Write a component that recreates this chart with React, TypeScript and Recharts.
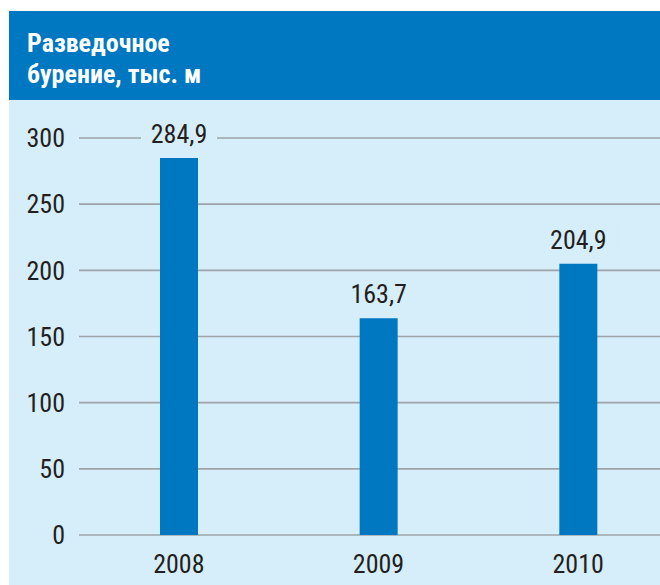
import React from 'react';
import { BarChart, Bar, XAxis, YAxis, CartesianGrid, LabelList } from 'recharts';

const years = ['2008', '2009', '2010'];
const drilling = [284.9, 163.7, 204.9];
const yTicks = [0, 50, 100, 150, 200, 250, 300];
const titleLines = ['Разведочное', 'бурение, тыс. м'];

const data = years.map((y, i) => ({ year: y, value: drilling[i] }));

const FONT = '"Liberation Sans Narrow", "Arial Narrow", "Roboto Condensed", "Liberation Sans", sans-serif';
const BG = '#D6EDFA';
const BLUE = '#0078C1';
const TEXT = '#231F20';

const ValueLabel = (props: any) => {
  const { x, y, width, value } = props;
  const cx = x + width / 2;
  const by = y - 15;
  return (
    <g>
      <rect x={cx - 38} y={by - 24} width={76} height={30} fill={BG} />
      <text x={cx} y={by} textAnchor="middle" fill={TEXT} fontSize={26} fontFamily={FONT}>
        {String(value).replace('.', ',')}
      </text>
    </g>
  );
};

export default function App() {
  return (
    <div style={{ position: 'fixed', left: 0, top: 0, width: 660, height: 585, overflow: 'hidden', background: '#fff' }}>
      <div style={{ position: 'absolute', left: 9, top: 11, width: 651, height: 574, background: BG }} />
      <div style={{ position: 'absolute', left: 9, top: 11, width: 651, height: 89, background: BLUE }} />
      <svg style={{ position: 'absolute', left: 0, top: 0 }} width={660} height={100}>
        {titleLines.map((t, i) => (
          <text key={i} x={27} y={52 + i * 31} fill="#fff" fontSize={26} fontWeight="bold" fontFamily={FONT}>
            {t}
          </text>
        ))}
      </svg>
      <div style={{ position: 'absolute', left: 0, top: 0 }}>
        <BarChart width={678} height={585} data={data} margin={{ top: 138, right: 0, bottom: 0, left: 0 }}>
          <CartesianGrid vertical={false} stroke="#9EA4A9" strokeWidth={1.6} />
          <XAxis
            dataKey="year"
            axisLine={false}
            tickLine={false}
            tickSize={6}
            tickMargin={14}
            height={50}
            tick={{ fill: TEXT, fontSize: 26, fontFamily: FONT }}
          />
          <YAxis
            width={79}
            domain={[0, 300]}
            ticks={yTicks}
            axisLine={false}
            tickLine={false}
            tickSize={6}
            tickMargin={8}
            tick={{ fill: TEXT, fontSize: 26, fontFamily: FONT }}
          />
          <Bar dataKey="value" fill={BLUE} barSize={38} isAnimationActive={false}>
            <LabelList dataKey="value" content={ValueLabel} />
          </Bar>
        </BarChart>
      </div>
    </div>
  );
}
